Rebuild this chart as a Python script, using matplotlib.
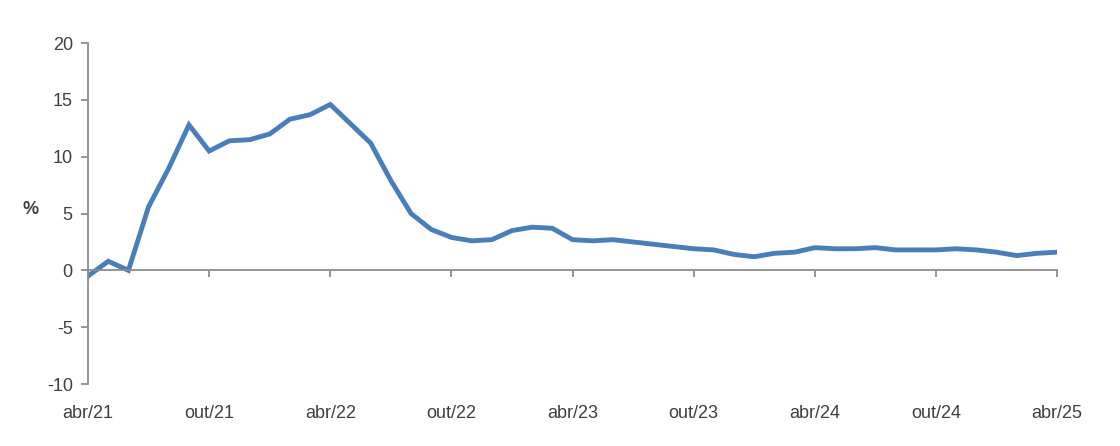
import matplotlib.pyplot as plt
import matplotlib.ticker as tik
import numpy as np

plt.rcParams['font.family'] = ['Liberation Sans', 'DejaVu Sans']
plt.rcParams['axes.unicode_minus'] = False

# monthly values, abr/21 .. abr/25
values = [-0.5, 0.8, 0.0, 5.6, 9.0, 12.8, 10.5, 11.4, 11.5, 12.0,
          13.3, 13.7, 14.6, 12.9, 11.2, 7.9, 5.0, 3.6, 2.9, 2.6,
          2.7, 3.5, 3.8, 3.7, 2.7, 2.6, 2.7, 2.5, 2.3, 2.1,
          1.9, 1.8, 1.4, 1.2, 1.5, 1.6, 2.0, 1.9, 1.9, 2.0,
          1.8, 1.8, 1.8, 1.9, 1.8, 1.6, 1.3, 1.5, 1.6]
tick_labels = ['abr/21', 'out/21', 'abr/22', 'out/22', 'abr/23',
               'out/23', 'abr/24', 'out/24', 'abr/25']

months = np.arange(len(values))
tick_pos = np.arange(0, len(values), 6)

grey = '#8c8c8c'
txt = '#404040'
line_color = '#4a7ebb'

fig = plt.figure(figsize=(11.2, 4.46), dpi=100)
ax = fig.add_axes([0.0786, 0.139, 0.8652, 0.7644])

ax.plot(months, values, color=line_color, linewidth=3.5, solid_joinstyle='miter')

ax.set_xlim(0, len(values) - 1)
ax.set_ylim(-10, 20)
ax.yaxis.set_major_locator(tik.MultipleLocator(5))

for s in ['top', 'right']:
    ax.spines[s].set_visible(False)
ax.spines['bottom'].set_position(('data', 0))
for s in ['left', 'bottom']:
    ax.spines[s].set_color(grey)
    ax.spines[s].set_linewidth(1.3)

ax.set_xticks(tick_pos)
ax.tick_params(axis='x', direction='out', length=5, width=1.3, color=grey,
               labelbottom=False)
ax.tick_params(axis='y', direction='out', length=5, width=1.3, color=grey,
               labelsize=13, labelcolor=txt, pad=6)

# month labels along the bottom of the plot
sec = ax.secondary_xaxis(-0.02)
sec.set_xticks(tick_pos, tick_labels)
sec.tick_params(length=0, labelsize=13, labelcolor=txt, pad=10)
sec.spines['bottom'].set_visible(False)

fig.text(0.027, 0.53, '%', fontsize=13, color=txt, fontweight='bold',
         ha='center', va='center')

plt.savefig('out.png', dpi=100)
